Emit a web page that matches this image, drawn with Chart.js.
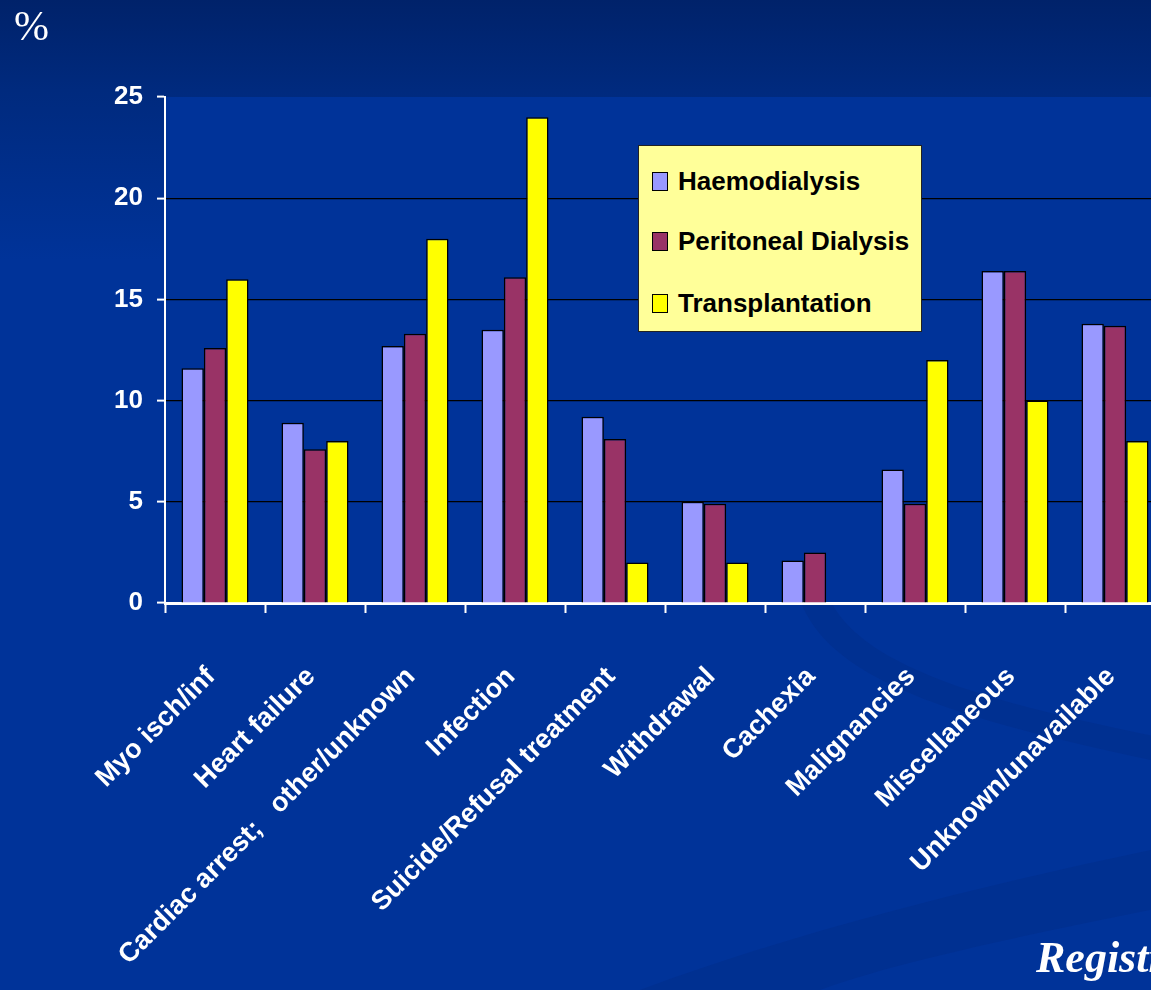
<!DOCTYPE html>
<html>
<head>
<meta charset="utf-8">
<script src="https://cdn.jsdelivr.net/npm/chart.js@4.4.1/dist/chart.umd.min.js"></script>
<style>
  html, body { margin: 0; padding: 0; overflow: hidden; width: 1151px; height: 990px; }
  body { background: linear-gradient(to bottom, #00226a 0px, #002a7e 90px, #003399 260px, #003399 990px); }
  #wrap { position: relative; width: 1200px; height: 990px; }
  #bgsvg { position: absolute; left: 0; top: 0; }
  canvas { position: absolute; left: 0; top: 0; }
  #pct { position: absolute; left: 14px; top: 2px; color: #fff; font-family: "Liberation Serif", "Times New Roman", serif; font-size: 42px; }
  #src { position: absolute; left: 1036px; top: 932px; color: #fff; font-family: "Liberation Serif", "Times New Roman", serif; font-size: 44px; font-weight: bold; font-style: italic; white-space: nowrap; }
  #legend { position: absolute; left: 638px; top: 145px; width: 282px; height: 185px; background: #ffff99; border: 1px solid #222; }
  .li { position: absolute; left: 13px; height: 30px; display: flex; align-items: center; font-family: "Liberation Sans", Arial, sans-serif; font-weight: bold; font-size: 26px; color: #000; white-space: nowrap; }
  .sw { width: 14px; height: 17px; border: 1px solid #000; margin-right: 10px; }
</style>
</head>
<body>
<div id="wrap">
  <svg id="bgsvg" width="1200" height="990">
    <path d="M 800 600 C 830 680, 950 720, 1200 770 L 1200 745 C 960 700, 860 660, 830 600 Z" fill="#002f8e" opacity="0.8"/>
    <path d="M 640 990 C 800 930, 1000 880, 1200 840 L 1200 900 C 1050 930, 900 960, 820 990 Z" fill="#002f8e" opacity="0.8"/>
  </svg>
  <canvas id="c" width="1200" height="990"></canvas>
  <div id="pct">%</div>
  <div id="legend"></div>
  <div id="src">Registry</div>
</div>
<script>
const categories = ['Myo isch/inf', 'Heart failure', 'Cardiac arrest;   other/unknown', 'Infection', 'Suicide/Refusal treatment', 'Withdrawal', 'Cachexia', 'Malignancies', 'Miscellaneous', 'Unknown/unavailable'];
const seriesNames = ['Haemodialysis', 'Peritoneal Dialysis', 'Transplantation'];
const haemodialysis = [11.6, 8.9, 12.7, 13.5, 9.2, 5.0, 2.1, 6.6, 16.4, 13.8];
const peritonealDialysis = [12.6, 7.6, 13.3, 16.1, 8.1, 4.9, 2.5, 4.9, 16.4, 13.7];
const transplantation = [16, 8, 18, 24, 2, 2, null, 12, 10, 8];
const yTicks = [0, 5, 10, 15, 20, 25];

const colors = ['#9999ff', '#993366', '#ffff00'];
const seriesData = [haemodialysis, peritonealDialysis, transplantation];

const font = "'Liberation Sans', Arial, sans-serif";

const plotBg = {
  id: 'plotBg',
  beforeDraw(chart) {
    const { ctx, chartArea: a } = chart;
    ctx.save();
    ctx.fillStyle = '#003399';
    ctx.fillRect(a.left, a.top, a.right - a.left, a.bottom - a.top);
    ctx.restore();
  }
};

new Chart(document.getElementById('c'), {
  type: 'bar',
  data: {
    labels: categories,
    datasets: seriesNames.map((n, i) => ({
      label: n,
      data: seriesData[i],
      backgroundColor: colors[i],
      borderColor: '#000',
      borderWidth: 1.5,
      barPercentage: 1,
      categoryPercentage: 0.67
    }))
  },
  options: {
    responsive: false,
    animation: false,
    devicePixelRatio: 1,
    layout: { padding: { top: 97, right: 35, left: 0, bottom: 0 } },
    plugins: { legend: { display: false }, tooltip: { enabled: false } },
    scales: {
      x: {
        afterFit(s) { s.height = 387; },
        grid: { drawOnChartArea: false, drawTicks: true, tickLength: 10, tickColor: '#fff', tickWidth: 2, offset: true },
        border: { color: '#fff', width: 3 },
        ticks: { color: '#fff', font: { family: font, weight: 'bold', size: 27 }, minRotation: 45, maxRotation: 45, autoSkip: false, padding: 48, labelOffset: -4 }
      },
      y: {
        min: yTicks[0], max: yTicks[yTicks.length - 1],
        afterFit(s) { s.width = 165; },
        afterBuildTicks(s) { s.ticks = yTicks.map(v => ({ value: v })); },
        grid: { color: c => (c.tick && (c.tick.value === 25 || c.tick.value === 0)) ? 'rgba(0,0,0,0)' : '#000', lineWidth: 1.2, tickLength: 8, tickColor: '#fff', tickWidth: 2 },
        border: { color: '#fff', width: 2 },
        ticks: { color: '#fff', font: { family: font, weight: 'bold', size: 26 }, padding: 14 }
      }
    }
  },
  plugins: [plotBg]
});

const leg = document.getElementById('legend');
const rowTops = [20, 80, 142];
seriesNames.forEach((n, i) => {
  const d = document.createElement('div');
  d.className = 'li';
  d.style.top = rowTops[i] + 'px';
  const sw = document.createElement('span');
  sw.className = 'sw';
  sw.style.background = colors[i];
  const t = document.createElement('span');
  t.textContent = n;
  d.appendChild(sw); d.appendChild(t);
  leg.appendChild(d);
});
</script>
</body>
</html>
